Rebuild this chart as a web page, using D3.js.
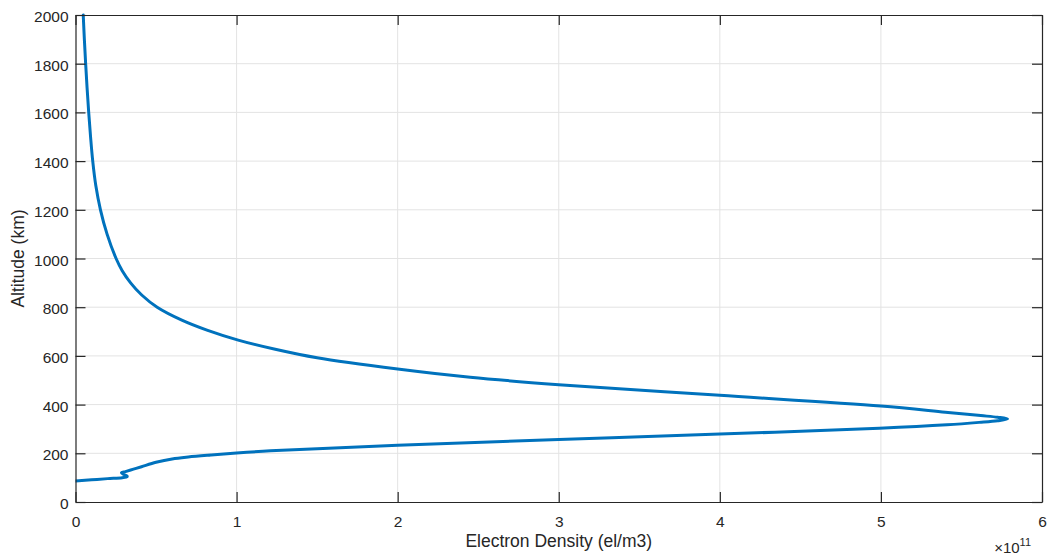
<!DOCTYPE html>
<html>
<head>
<meta charset="utf-8">
<script src="https://cdn.jsdelivr.net/npm/d3@7"></script>
<style>
  html, body { margin: 0; padding: 0; background: #fff; }
  svg { display: block; }
  text { font-family: "Liberation Sans", Arial, sans-serif; fill: #262626; }
</style>
</head>
<body>
<svg id="chart" width="1048" height="557"></svg>
<script>
// Electron density (units of 1e11 el/m3) along the profile, ordered by altitude
const density = [0.0, 0.10, 0.20, 0.29, 0.32, 0.32, 0.30, 0.285, 0.31, 0.36, 0.41, 0.50, 0.60, 0.70, 0.84, 1.0, 1.21, 1.5, 2.0, 3.0, 4.0, 4.99, 5.41, 5.61, 5.725, 5.786, 5.725, 5.62, 5.40, 5.0, 4.0, 3.0, 2.45, 2.0, 1.5, 1.24, 1.01, 0.816, 0.66, 0.507, 0.411, 0.342, 0.290, 0.252, 0.196, 0.155, 0.126, 0.107, 0.0935, 0.082, 0.072, 0.063, 0.055, 0.048];
// Altitude (km) matching each density value
const altitude = [86, 91, 96, 100, 104, 107, 113, 120, 125, 135, 145, 163, 177, 185, 193, 201, 210, 219, 233, 257, 279, 302.6, 317, 327, 334, 341, 348, 355, 369, 394, 438, 482, 512, 546, 592, 627, 665, 706, 747, 800, 850, 900, 950, 1000, 1100, 1200, 1300, 1400, 1500, 1600, 1700, 1800, 1900, 2000];
const xTicks = [0, 1, 2, 3, 4, 5, 6];
const yTicks = [0, 200, 400, 600, 800, 1000, 1200, 1400, 1600, 1800, 2000];
const xLabel = "Electron Density (el/m3)";
const yLabel = "Altitude (km)";

const svg = d3.select("#chart");
const L = 75.5, R = 1042, T = 15, B = 502;
const x = d3.scaleLinear().domain([0, 6]).range([L, R]);
const y = d3.scaleLinear().domain([0, 2000]).range([B, T]);
const axisColor = "#262626";
const gridColor = "#e3e3e3";
const font = '"Liberation Sans", Arial, sans-serif';

// grid
svg.append("g").selectAll("line").data(xTicks.slice(1, -1)).join("line")
  .attr("x1", d => x(d)).attr("x2", d => x(d)).attr("y1", T).attr("y2", B)
  .attr("stroke", gridColor).attr("stroke-width", 1);
svg.append("g").selectAll("line").data(yTicks.slice(1, -1)).join("line")
  .attr("y1", d => y(d)).attr("y2", d => y(d)).attr("x1", L).attr("x2", R)
  .attr("stroke", gridColor).attr("stroke-width", 1);

// data line
const pts = density.map((d, i) => [d, altitude[i]]);
svg.append("defs").append("clipPath").attr("id", "clip")
  .append("rect").attr("x", L).attr("y", T - 2).attr("width", R - L).attr("height", B - T + 2);
svg.append("path")
  .datum(pts)
  .attr("clip-path", "url(#clip)")
  .attr("d", d3.line().x(d => x(d[0])).y(d => y(d[1])).curve(d3.curveCatmullRom.alpha(0.5)))
  .attr("fill", "none").attr("stroke", "#0072BD").attr("stroke-width", 3)
  .attr("stroke-linejoin", "round").attr("stroke-linecap", "round");

// axes
const tickLen = 10;
const fmt = d3.format("d");
const gB = svg.append("g").attr("transform", `translate(0,${B})`)
  .call(d3.axisBottom(x).tickValues(xTicks).tickFormat(fmt).tickSizeInner(-tickLen).tickSizeOuter(0).tickPadding(14));
const gT = svg.append("g").attr("transform", `translate(0,${T})`)
  .call(d3.axisTop(x).tickValues(xTicks).tickFormat("").tickSizeInner(-tickLen).tickSizeOuter(0));
const gL = svg.append("g").attr("transform", `translate(${L},0)`)
  .call(d3.axisLeft(y).tickValues(yTicks).tickFormat(fmt).tickSizeInner(-tickLen).tickSizeOuter(0).tickPadding(7));
const gR = svg.append("g").attr("transform", `translate(${R},0)`)
  .call(d3.axisRight(y).tickValues(yTicks).tickFormat("").tickSizeInner(-tickLen).tickSizeOuter(0));
[gB, gT, gL, gR].forEach(g => {
  g.select(".domain").attr("stroke", axisColor).attr("stroke-width", 1.2);
  g.selectAll(".tick line").attr("stroke", axisColor).attr("stroke-width", 1.2);
  g.selectAll(".tick text").attr("fill", axisColor)
    .style("font-family", font).style("font-size", "15.5px");
});
gL.selectAll(".tick text").attr("dy", "0.42em");

// axis labels
svg.append("text").attr("x", (L + R) / 2).attr("y", 547).attr("text-anchor", "middle")
  .style("font-size", "17.5px").text(xLabel);
svg.append("text").attr("transform", `translate(23.5,${(T + B) / 2}) rotate(-90)`)
  .attr("text-anchor", "middle").style("font-size", "17.5px").text(yLabel);

// exponent
const ex = svg.append("text").attr("x", 1031).attr("y", 553).attr("text-anchor", "end")
  .style("font-size", "15px");
ex.append("tspan").text("\u00D7");
ex.append("tspan").text("10");
ex.append("tspan").text("11").attr("dy", -7).style("font-size", "11px");
</script>
</body>
</html>
